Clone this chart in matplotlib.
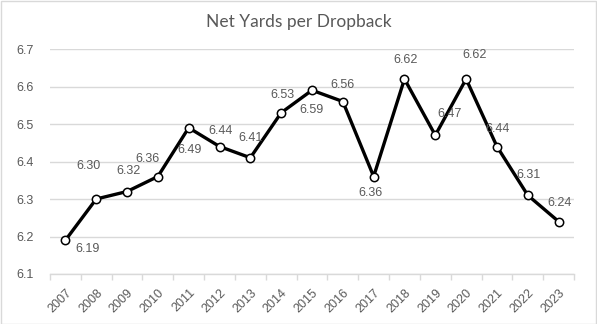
import numpy as np
import matplotlib
matplotlib.use('Agg')
import matplotlib.pyplot as plt

years = ['2007', '2008', '2009', '2010', '2011', '2012', '2013', '2014', '2015',
         '2016', '2017', '2018', '2019', '2020', '2021', '2022', '2023']
net_yards = [6.19, 6.30, 6.32, 6.36, 6.49, 6.44, 6.41, 6.53, 6.59,
             6.56, 6.36, 6.62, 6.47, 6.62, 6.44, 6.31, 6.24]
# label offsets (pixels) relative to each point, as placed in the source chart
label_dx = [22, -8, 1, -10, 1, 1, 0, 1, 0, 0, -3, 1, 14, 8, 1, 1, 1]
label_dy = [-9, 33, 20, 17, -22, 16, 20, 18, -20, 17, -16, 19, 21, 24, 18, 20, 18]

grey = '#595959'

def main():
    fig = plt.figure(figsize=(5.97, 3.24), dpi=100)
    ax = fig.add_axes([50 / 597, 1 - 274 / 324, 524 / 597, 225 / 324])

    x = np.arange(len(years))
    ax.plot(x, net_yards, color='black', lw=2.4, marker='o', ms=6,
            mfc='white', mec='black', mew=1.1, zorder=3, solid_joinstyle='miter')

    for i, v in enumerate(net_yards):
        ax.annotate(f'{v:.2f}', (x[i], v), xytext=(label_dx[i], label_dy[i]),
                    textcoords='offset pixels', ha='center', va='center',
                    fontsize=9, color=grey, family='Liberation Sans')

    ax.set_xlim(-0.5, len(years) - 0.5)
    ax.set_ylim(6.1, 6.7)
    ax.set_yticks(np.arange(6.1, 6.71, 0.1))
    ax.set_yticklabels([f'{t:.1f}' for t in np.arange(6.1, 6.71, 0.1)])
    ax.set_xticks(x)
    ax.set_xticklabels(years, rotation=45, ha='right', rotation_mode='anchor')
    ax.set_xticks(np.arange(-0.5, len(years), 1), minor=True)

    ax.grid(axis='y', color='#d9d9d9', lw=1)
    ax.set_axisbelow(True)
    for s in ['top', 'right', 'left']:
        ax.spines[s].set_visible(False)
    ax.spines['bottom'].set_color('#d9d9d9')
    ax.spines['bottom'].set_linewidth(1)

    ax.tick_params(axis='y', length=0, pad=12, labelsize=9, labelcolor=grey)
    ax.tick_params(axis='x', which='major', length=0, pad=9, labelsize=9, labelcolor=grey)
    ax.tick_params(axis='x', which='minor', length=4, color='#d9d9d9', width=1)
    for lbl in ax.get_xticklabels() + ax.get_yticklabels():
        lbl.set_family('Liberation Sans')

    fig.text(0.5, 1 - 22 / 324, 'Net Yards per Dropback', ha='center', va='center',
             fontsize=12.5, color=grey, family='Lato')

    border = plt.Rectangle((0.5 / 597, 0.5 / 324), 1 - 1.5 / 597, 1 - 1.5 / 324,
                           transform=fig.transFigure, fill=False,
                           edgecolor='#d9d9d9', lw=1)
    fig.patches.append(border)

    fig.savefig('out.png', dpi=100)

if __name__ == "__main__":
    main()
